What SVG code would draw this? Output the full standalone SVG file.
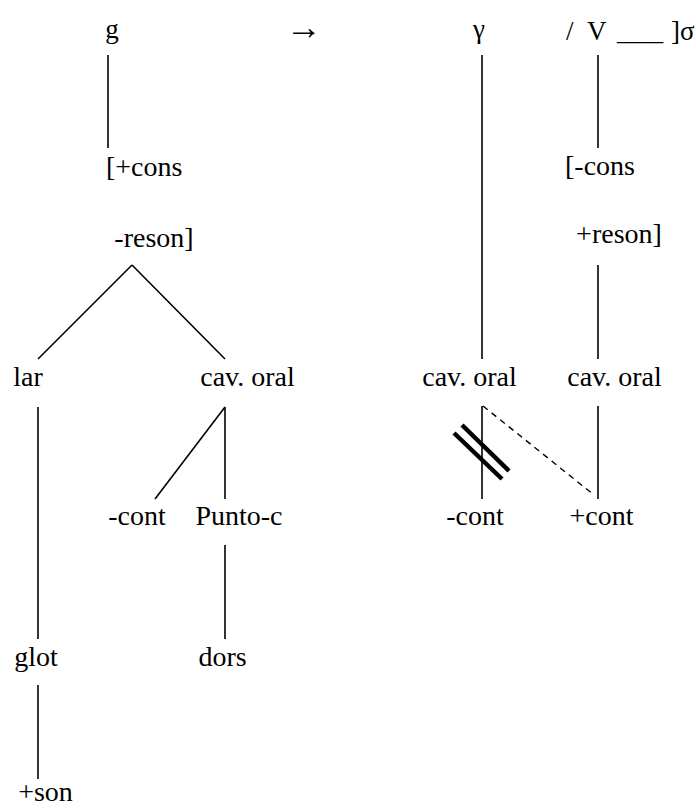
<svg xmlns="http://www.w3.org/2000/svg" width="696" height="808" viewBox="0 0 696 808">
<style>
  text { font-family: "Times New Roman", Times, "Liberation Serif", Tinos, "Noto Serif", "DejaVu Serif", FreeSerif, serif; font-size: 28px; fill: #000; }
  .top { font-size: 27px; }
  .arr { font-size: 36px; }
  .m { text-anchor: middle; }
  .ln { stroke: #000; stroke-width: 1.6; fill: none; }
  .dash { stroke: #000; stroke-width: 1.4; stroke-dasharray: 6 5; fill: none; }
  .bar { stroke: #000; stroke-width: 4.5; fill: none; }
</style>
<rect width="696" height="808" fill="#fff"/>
<g id="connectors">
  <line class="ln" x1="108" y1="55" x2="108" y2="148"/>
  <line class="ln" x1="132" y1="265" x2="38" y2="359"/>
  <line class="ln" x1="132" y1="265" x2="225" y2="359"/>
  <line class="ln" x1="38" y1="407" x2="38" y2="639"/>
  <line class="ln" x1="225" y1="407" x2="155" y2="499"/>
  <line class="ln" x1="225" y1="407" x2="225" y2="499"/>
  <line class="ln" x1="225" y1="545" x2="225" y2="639"/>
  <line class="ln" x1="38" y1="685" x2="38" y2="779"/>
  <line class="ln" x1="482" y1="55" x2="482" y2="359"/>
  <line class="ln" x1="598" y1="55" x2="598" y2="148"/>
  <line class="ln" x1="598" y1="265" x2="598" y2="359"/>
  <line class="ln" x1="482" y1="406" x2="482" y2="499"/>
  <line class="ln" x1="598" y1="406" x2="598" y2="499"/>
  <line class="dash" x1="483" y1="406" x2="594" y2="495"/>
  <line class="bar" x1="454" y1="433" x2="502" y2="479"/>
  <line class="bar" x1="462" y1="425" x2="509" y2="471"/>
</g>
<g id="n-g"><text class="top m" x="112" y="38">g</text></g>
<g id="n-arrow"><text class="arr m" x="304" y="39">→</text></g>
<g id="n-gamma"><text class="top m" x="479" y="38">γ</text></g>
<g id="n-context"><text class="top" y="40"><tspan x="566">/</tspan><tspan x="587">V</tspan><tspan x="617" textLength="46" lengthAdjust="spacingAndGlyphs">___</tspan><tspan x="671">]σ</tspan></text></g>
<g id="n-pcons"><text x="106" y="176">[+cons</text></g>
<g id="n-mreson"><text class="m" x="154" y="247">-reson]</text></g>
<g id="n-lar"><text class="m" x="28" y="386">lar</text></g>
<g id="n-cavoral1"><text class="m" x="247.5" y="386">cav. oral</text></g>
<g id="n-mcont1"><text class="m" x="137" y="525">-cont</text></g>
<g id="n-punto"><text class="m" x="239" y="525">Punto-c</text></g>
<g id="n-glot"><text class="m" x="36" y="666">glot</text></g>
<g id="n-dors"><text class="m" x="222.5" y="666">dors</text></g>
<g id="n-son"><text class="m" x="45.5" y="801">+son</text></g>
<g id="n-mcons"><text x="565" y="175">[-cons</text></g>
<g id="n-preson"><text class="m" x="619" y="243">+reson]</text></g>
<g id="n-cavoral2"><text class="m" x="469.5" y="386">cav. oral</text></g>
<g id="n-cavoral3"><text class="m" x="614.5" y="386">cav. oral</text></g>
<g id="n-mcont2"><text class="m" x="475" y="525">-cont</text></g>
<g id="n-pcont"><text class="m" x="601.5" y="525">+cont</text></g>
</svg>
